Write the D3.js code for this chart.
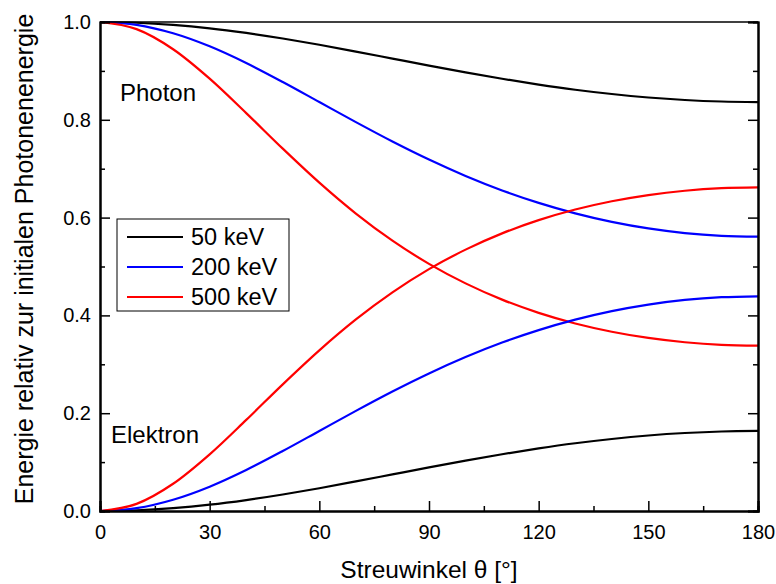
<!DOCTYPE html>
<html>
<head>
<meta charset="utf-8">
<script src="https://cdn.jsdelivr.net/npm/d3@7"></script>
<style>
  body { margin: 0; background: #fff; }
  text { font-family: "Liberation Sans", Arial, sans-serif; }
</style>
</head>
<body>
<svg id="chart" width="776" height="584"></svg>
<script>
// scattering angle (deg) and energy fractions
const angles = [0, 10, 20, 30, 40, 50, 60, 70, 80, 90, 100, 110, 120, 130, 140, 150, 160, 170, 180];

const photon50  = [1, 0.9985, 0.9941, 0.9871, 0.9776, 0.9662, 0.9534, 0.9395, 0.9252, 0.9109, 0.8970, 0.8839, 0.8720, 0.8615, 0.8527, 0.8456, 0.8405, 0.8374, 0.8363];
const photon200 = [1, 0.9941, 0.9769, 0.9502, 0.9161, 0.8773, 0.8363, 0.7952, 0.7556, 0.7187, 0.6852, 0.6556, 0.6301, 0.6087, 0.5913, 0.5779, 0.5684, 0.5628, 0.5609];
const photon500 = [1, 0.9854, 0.9443, 0.8841, 0.8137, 0.7410, 0.6715, 0.6083, 0.5529, 0.5054, 0.4655, 0.4323, 0.4052, 0.3835, 0.3666, 0.3539, 0.3451, 0.3399, 0.3382];

const electron50  = [0, 0.0015, 0.0059, 0.0129, 0.0224, 0.0338, 0.0466, 0.0605, 0.0748, 0.0891, 0.1030, 0.1161, 0.1280, 0.1385, 0.1473, 0.1544, 0.1595, 0.1626, 0.1637];
const electron200 = [0, 0.0059, 0.0231, 0.0498, 0.0839, 0.1227, 0.1637, 0.2048, 0.2444, 0.2813, 0.3148, 0.3444, 0.3699, 0.3913, 0.4087, 0.4221, 0.4316, 0.4372, 0.4391];
const electron500 = [0, 0.0146, 0.0557, 0.1159, 0.1863, 0.2590, 0.3285, 0.3917, 0.4471, 0.4946, 0.5345, 0.5677, 0.5948, 0.6165, 0.6334, 0.6461, 0.6549, 0.6601, 0.6618];

const seriesNames = ["50 keV", "200 keV", "500 keV"];
const seriesColors = ["#000000", "#0000ff", "#ff0000"];

const xTicks = [0, 30, 60, 90, 120, 150, 180];
const yTicks = [0, 0.2, 0.4, 0.6, 0.8, 1.0];

const svg = d3.select("#chart");
const plotL = 100, plotR = 758, plotT = 22, plotB = 511;

const x = d3.scaleLinear().domain([0, 180]).range([plotL, plotR]);
const y = d3.scaleLinear().domain([0, 1]).range([plotB, plotT]);

// curves
const line = d3.line()
  .x((d, i) => x(angles[i]))
  .y(d => y(d))
  .curve(d3.curveMonotoneX);

const curves = [
  [photon50, 0], [photon200, 1], [photon500, 2],
  [electron50, 0], [electron200, 1], [electron500, 2]
];

svg.append("g")
  .selectAll("path")
  .data(curves)
  .join("path")
  .attr("d", d => line(d[0]))
  .attr("fill", "none")
  .attr("stroke", d => seriesColors[d[1]])
  .attr("stroke-width", 2.2);

// top frame line
svg.append("line").attr("x1", plotL).attr("x2", plotR).attr("y1", plotT).attr("y2", plotT)
  .attr("stroke", "#000").attr("stroke-width", 1.5);

// axes, ticks pointing inward
const xMinor = d3.range(15, 180, 30);
const yMinor = d3.range(0.1, 1, 0.2);

const xAxis = svg.append("g").attr("transform", `translate(0,${plotB})`)
  .call(d3.axisBottom(x).tickValues(xTicks).tickSize(-10).tickPadding(14).tickFormat(d3.format("d")));
xAxis.append("g").call(d3.axisBottom(x).tickValues(xMinor).tickSize(-5).tickFormat(""));

const yAxis = svg.append("g").attr("transform", `translate(${plotL},0)`)
  .call(d3.axisLeft(y).tickValues(yTicks).tickSize(-10).tickPadding(9).tickFormat(d3.format(".1f")));
yAxis.append("g").call(d3.axisLeft(y).tickValues(yMinor).tickSize(-5).tickFormat(""));

const yAxisR = svg.append("g").attr("transform", `translate(${plotR},0)`)
  .call(d3.axisRight(y).tickValues(yTicks).tickSize(-10).tickFormat(""));
yAxisR.append("g").call(d3.axisRight(y).tickValues(yMinor).tickSize(-5).tickFormat(""));

svg.selectAll(".domain").attr("stroke", "#000").attr("stroke-width", 2);
svg.selectAll(".tick line").attr("stroke", "#000").attr("stroke-width", 1.5);
svg.selectAll(".tick text").attr("font-size", 20).attr("fill", "#000")
  .attr("font-family", "Liberation Sans, Arial, sans-serif");

// axis titles
svg.append("text")
  .attr("x", 429).attr("y", 578)
  .attr("text-anchor", "middle").attr("font-size", 24.5)
  .text("Streuwinkel θ [°]");

svg.append("text")
  .attr("transform", "translate(33,259) rotate(-90)")
  .attr("text-anchor", "middle").attr("font-size", 25)
  .text("Energie relativ zur initialen Photonenenergie");

// curve labels
svg.append("text").attr("x", 120).attr("y", 101).attr("font-size", 24).text("Photon");
svg.append("text").attr("x", 111).attr("y", 443).attr("font-size", 24).text("Elektron");

// legend
const legend = svg.append("g").attr("transform", "translate(117,219)");
legend.append("rect").attr("width", 172).attr("height", 92)
  .attr("fill", "#fff").attr("stroke", "#000").attr("stroke-width", 1);
const rows = legend.selectAll("g.row").data(seriesNames).join("g")
  .attr("class", "row")
  .attr("transform", (d, i) => `translate(0,${18 + i * 30})`);
rows.append("line").attr("x1", 10).attr("x2", 66).attr("y1", 0).attr("y2", 0)
  .attr("stroke", (d, i) => seriesColors[i]).attr("stroke-width", 2.2);
rows.append("text").attr("x", 74).attr("y", 8).attr("font-size", 23.5).text(d => d);
</script>
</body>
</html>
